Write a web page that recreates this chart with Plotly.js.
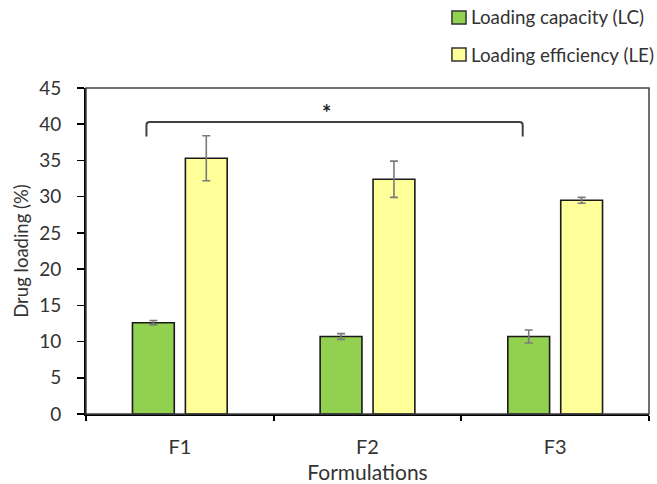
<!DOCTYPE html>
<html>
<head>
<meta charset="utf-8">
<script src="https://cdn.plot.ly/plotly-3.0.1.min.js"></script>
<style>
  html, body { margin: 0; padding: 0; background: #fff; }
  #chart { width: 657px; height: 484px; }
</style>
</head>
<body>
<div id="chart"></div>
<script>
// Formulations and their drug loading results (%)
const formulations = ['F1', 'F2', 'F3'];
const capacity = [12.6, 10.7, 10.7];       // Loading capacity (LC)
const capacityErr = [0.3, 0.4, 0.9];
const efficiency = [35.3, 32.4, 29.5];     // Loading efficiency (LE)
const efficiencyErr = [3.1, 2.5, 0.4];
const yTicks = [0, 5, 10, 15, 20, 25, 30, 35, 40, 45];
const seriesNames = ['Loading capacity (LC)', 'Loading efficiency (LE)'];
const seriesColors = ['#92d050', '#ffff99'];

const FONT = 'Lato, "Open Sans", sans-serif';
const TEXT = '#333';

const errStyle = { type: 'data', visible: true, color: '#7a7a7a', thickness: 1.6, width: 4 };

const traces = [
  {
    type: 'bar', name: seriesNames[0],
    x: formulations, y: capacity,
    error_y: Object.assign({ array: capacityErr }, errStyle),
    marker: { color: seriesColors[0], line: { color: '#1a1a1a', width: 1.6 } }
  },
  {
    type: 'bar', name: seriesNames[1],
    x: formulations, y: efficiency,
    error_y: Object.assign({ array: efficiencyErr }, errStyle),
    marker: { color: seriesColors[1], line: { color: '#1a1a1a', width: 1.6 } }
  }
];

// Legend drawn as swatches + labels above the plot, to the right
const legendShapes = [];
const legendNotes = [];
const legendRows = [{ y0: 1.196, y1: 1.236, ty: 1.218 }, { y0: 1.083, y1: 1.123, ty: 1.104 }];
seriesNames.forEach((name, i) => {
  const row = legendRows[i];
  legendShapes.push({
    type: 'rect', xref: 'paper', yref: 'paper',
    x0: 0.650, x1: 0.675, y0: row.y0, y1: row.y1,
    fillcolor: seriesColors[i], line: { color: '#333', width: 1.5 }
  });
  legendNotes.push({
    xref: 'paper', yref: 'paper', x: 0.681, y: row.ty,
    xanchor: 'left', yanchor: 'middle', showarrow: false,
    text: name, font: { family: FONT, size: 18.8, color: TEXT }
  });
});

const layout = {
  width: 657, height: 484,
  margin: { l: 86, r: 8, t: 88, b: 70 },
  paper_bgcolor: '#fff', plot_bgcolor: '#fff',
  font: { family: FONT, color: TEXT, size: 16 },
  barmode: 'group', bargap: 0.436, bargroupgap: 0.21,
  showlegend: false,
  xaxis: {
    type: 'category', range: [-0.5, 2.5],
    showline: true, linecolor: '#000', linewidth: 2,
    ticks: 'outside', tickson: 'boundaries', ticklen: 5, tickwidth: 2, tickcolor: '#000',
    tickfont: { family: FONT, size: 20, color: TEXT },
    ticklabelstandoff: 14,
    showgrid: false, zeroline: false,
    title: { text: 'Formulations', font: { family: FONT, size: 21, color: TEXT }, standoff: 18 }
  },
  yaxis: {
    range: [0, 45], tickvals: yTicks,
    showline: true, linecolor: '#000', linewidth: 2,
    ticks: 'outside', ticklen: 7, tickwidth: 1.5, tickcolor: '#000',
    tickfont: { family: FONT, size: 19, color: TEXT },
    ticklabelstandoff: 12,
    showgrid: false, zeroline: false,
    title: { text: 'Drug loading (%)', font: { family: FONT, size: 18.5, color: TEXT }, standoff: 6 }
  },
  shapes: [
    // plot frame
    { type: 'rect', xref: 'paper', yref: 'paper', x0: 0, x1: 1, y0: 0, y1: 1,
      line: { color: '#404040', width: 1.5 } },
    // significance bracket between F1 and F3
    { type: 'path', xref: 'x', yref: 'y',
      path: 'M -0.178,38.3 L -0.178,39.9 Q -0.178,40.3 -0.16,40.3 L 1.81,40.3 Q 1.827,40.3 1.827,39.9 L 1.827,38.3',
      line: { color: '#404040', width: 2 } }
  ].concat(legendShapes),
  annotations: [
    { x: 0.78, y: 41.6, xref: 'x', yref: 'y', yanchor: 'middle', showarrow: false,
      text: '<b>*</b>', font: { family: FONT, size: 22, color: '#222' } }
  ].concat(legendNotes)
};

Plotly.newPlot('chart', traces, layout, { displayModeBar: false, staticPlot: true });
</script>
</body>
</html>
